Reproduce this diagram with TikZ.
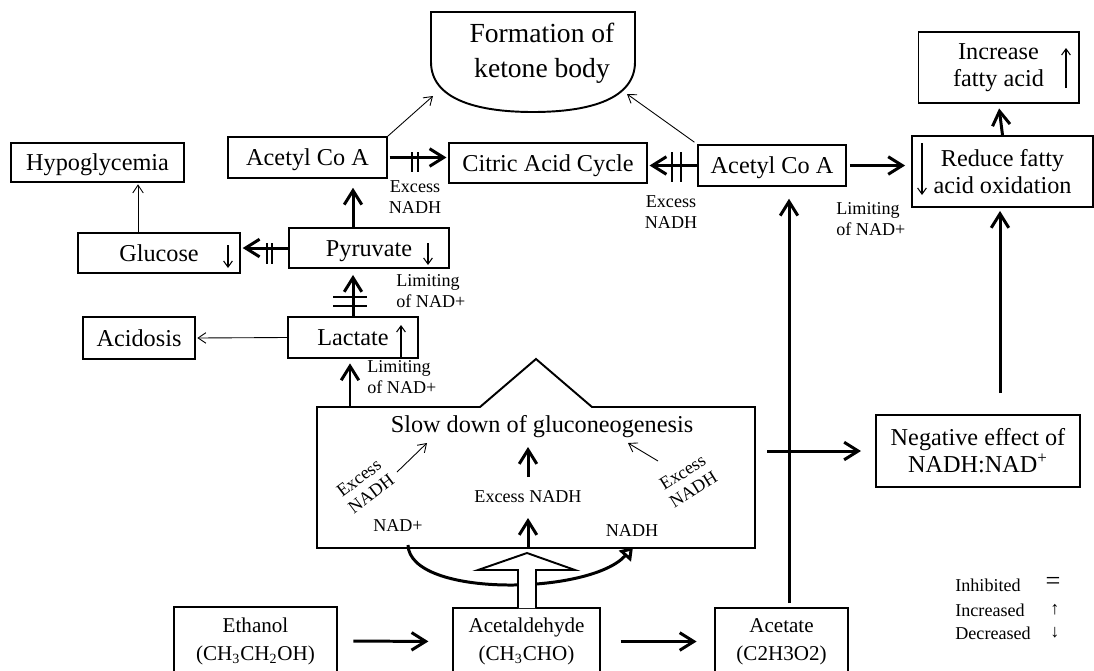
\documentclass[tikz,border=0pt]{standalone}
\usepackage{fontspec}
\setmainfont{Liberation Serif}
\usetikzlibrary{arrows.meta}
\newcommand{\bigtxt}{\fontsize{13.8}{15.5}\selectfont}
\newcommand{\midtxt}{\fontsize{12}{16}\selectfont}
\newcommand{\smalltxt}{\fontsize{10.3}{11.5}\selectfont}

\begin{document}
\begin{tikzpicture}[x=0.02cm,y=-0.02cm,
	box/.style={draw,line width=1.1pt,inner sep=0pt,font=\bigtxt,align=center},
	thinbox/.style={box,line width=0.6pt},
	oneline/.style={text height=9.5pt,text depth=0pt},
	lowbox/.style={thinbox,font=\midtxt},
	note/.style={inner sep=0pt,font=\smalltxt,align=center},
	thk/.style={line width=1.7pt,-{Straight Barb[length=8pt,width=10pt]}},
	thn/.style={line width=0.5pt,-{Straight Barb[length=4.5pt,width=6pt]}},
	updown/.style={line width=0.6pt,-{Straight Barb[length=3.5pt,width=5pt]}},
	stopbar/.style={line width=1.1pt}]
\useasboundingbox (0,0) rectangle (1094,670);

% top row
\draw[line width=1.1pt] (431,12) -- (635,12) -- (635,62)
	.. controls (635,98) and (592,112) .. (533,112)
	.. controls (474,112) and (431,98) .. (431,62) -- cycle;
\node[note,font=\fontsize{15.7}{20}\selectfont] (ket) at (542,53) {Formation of\\ketone body};
\coordinate (ketL) at (433,96);
\coordinate (ketR) at (627,94);
\node[thinbox,minimum width=3.22cm,minimum height=1.42cm] (incr) at (998.5,67.5) {Increase\\fatty acid};
\node[thinbox,oneline,minimum width=3.46cm,minimum height=0.78cm] (hypo) at (97.5,162.5) {Hypoglycemia};
\node[box,oneline,minimum width=3.18cm,minimum height=0.82cm] (acoaL) at (307.5,157.5) {Acetyl Co A};
\node[box,oneline,line width=0.9pt,minimum width=3.96cm,minimum height=0.80cm] (citric) at (548,163) {Citric Acid Cycle};
\node[box,oneline,line width=0.9pt,minimum width=2.96cm,minimum height=0.82cm] (acoaR) at (772,165.5) {Acetyl Co A};
\node[box,minimum width=3.62cm,minimum height=1.42cm] (reduce) at (1002.5,171.5) {Reduce fatty\\acid oxidation};

% left column
\node[box,oneline,minimum width=3.24cm,minimum height=0.80cm] (glucose) at (159,253) {Glucose};
\node[box,oneline,minimum width=3.20cm,minimum height=0.80cm] (pyruvate) at (369,248) {Pyruvate};
\node[box,oneline,minimum width=2.60cm,minimum height=0.82cm] (lactate) at (353,337.5) {Lactate};
\node[thinbox,oneline,minimum width=2.24cm,minimum height=0.84cm] (acidosis) at (139,338) {Acidosis};
\node[box,minimum width=4.08cm,minimum height=1.44cm] (neg) at (978,451) {Negative effect of\\NADH:NAD\textsuperscript{+}};

% slow down box
\draw[line width=1.1pt] (317,407) -- (480,407) -- (536,359) -- (592,407) -- (755,407)
	-- (755,548) -- (317,548) -- cycle;
\node[note,font=\bigtxt] (slow) at (542,427) {Slow down of gluconeogenesis};
\coordinate (slowL) at (350,407);
\coordinate (slowR) at (767,451);
\coordinate (slowB) at (528,548);
\node[note,rotate=37] (exIn) at (365,486) {Excess\\NADH};
\node[note,rotate=32] (exOut) at (688,481) {Excess\\NADH};
\node[note] (exMid) at (528,497) {Excess NADH};
\node[note] (nadp) at (398,526) {NAD+};
\node[note] (nadh) at (632,531) {NADH};

% bottom row
\node[lowbox,minimum width=3.26cm,minimum height=1.36cm] (ethanol) at (255.5,641) {Ethanol\\(CH\textsubscript{3}CH\textsubscript{2}OH)};
\node[lowbox,minimum width=2.94cm,minimum height=1.34cm] (acetald) at (526.5,641.5) {Acetaldehyde\\(CH\textsubscript{3}CHO)};
\node[lowbox,minimum width=2.66cm,minimum height=1.34cm] (acetate) at (781.5,641.5) {Acetate\\(C2H3O2)};
\coordinate (acetup) at (789,603);
\coordinate (negup) at (1000,393);

% labels
\node[note] (exA) at (415,197) {Excess\\NADH};
\node[note] (exB) at (671,212) {Excess\\NADH};
\node[note,anchor=west,align=left] (limA) at (836,219) {Limiting\\of NAD+};
\node[note,anchor=west,align=left] (limB) at (396,291) {Limiting\\of NAD+};
\node[note,anchor=west,align=left] (limC) at (367,377) {Limiting\\of NAD+};

% legend
\node[note,anchor=west] (inh) at (955,585) {Inhibited};
\node[note,anchor=west] (inc) at (955,610) {Increased};
\node[note,anchor=west] (dec) at (955,633) {Decreased};
\node[note,font=\fontsize{15}{15}\selectfont] at (1053,583) {=};
\node[note] at (1055,610) {↑};
\node[note] at (1055,633) {↓};

% up and down marks in boxes
\draw[updown] (228,245) -- (228,268);
\draw[updown] (428,243) -- (428,265);
\draw[updown] (401,357) -- (401,325);
\draw[updown] (1066,88) -- (1066,48);
\draw[updown] (922,143) -- (922,195);

% main flow
\draw[thk,shorten <=9pt,shorten >=13.7pt] (ethanol.east) -- (acetald.west);
\draw[thk,shorten <=11.4pt,shorten >=10.2pt] (acetald.east) -- (acetate.west);
\draw[thk,shorten >=6.8pt] (acetup) -- (acetup |- acoaR.south);
\draw[thk,shorten >=8pt] (slowR) -- (neg.west);
\draw[thk,shorten >=1.7pt] (negup) -- (negup |- reduce.south);
\draw[thk,shorten >=2.8pt] (reduce.north) -- (incr.south);
\draw[thk,shorten <=1.7pt,shorten >=3.4pt] (acoaR.east) -- (acoaR.east -| reduce.west);
\draw[thk,shorten >=1pt] (acoaR.west) -- (acoaR.west -| citric.east);
\draw[thk,shorten <=1pt,shorten >=1pt] (acoaL.east) -- (acoaL.east -| citric.west);
\draw[thk,shorten >=1pt] (pyruvate.west) -- (pyruvate.west -| glucose.east);
\draw[thk,shorten >=5pt] (pyruvate.north -| lactate.north) -- (acoaL.south -| lactate.north);
\draw[thk,shorten >=3.4pt] (lactate.north) -- (lactate.north |- pyruvate.south);
\draw[thk,shorten >=2.5pt] (slowL) -- (slowL |- lactate.south);

% inhibition bars
\draw[stopbar] (412,152) -- (412,172) (418,152) -- (418,172);
\draw[stopbar,line width=1.6pt] (672,152) -- (672,182) (681,152) -- (681,182);
\draw[stopbar] (267,243) -- (267,264) (272,243) -- (272,264);
\draw[stopbar,line width=0.6pt] (333,297) -- (367,297) (333,306) -- (367,306);

% thin effects
\draw[thn,shorten >=1pt] (lactate.west) -- (acidosis.east);
\draw[thn,shorten >=1pt] ([xshift=-0.42cm]glucose.north) -- ([xshift=-0.42cm]glucose.north |- hypo.south);
\draw[thn] (acoaL.north east) -- (ketL);
\draw[thn,shorten <=2pt] (acoaR.north west) -- (ketR);
\draw[thn] (397,472) -- (427,443);
\draw[thn] (658,461) -- (628,443);

% inside the box
\draw[thk] (slowB) -- (528,518);
\draw[thk] (528,477) -- (528,447);
\draw[line width=1.7pt,-{Triangle[open,length=7pt,width=9pt]}] (408,545)
	.. controls (410,598) and (590,595) .. (633,547);
\draw[line width=1.1pt,fill=white] (518,608) -- (518,570) -- (478,570) -- (527,553)
	-- (575,570) -- (536,570) -- (536,608);
\end{tikzpicture}
\end{document}
